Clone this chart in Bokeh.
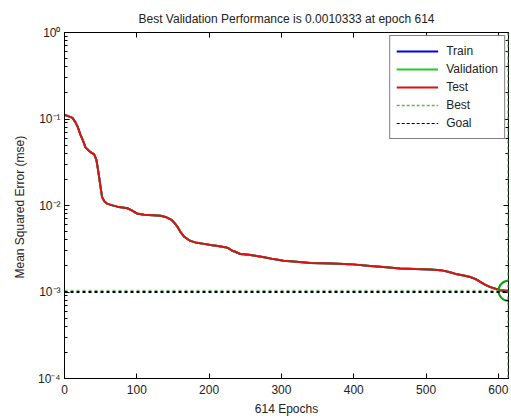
from bokeh.plotting import figure
from bokeh.models import (Range1d, LinearAxis, LogAxis, Span, Legend, LegendItem,
                          CustomJSTickFormatter, FixedTicker, ColumnDataSource)
from bokeh.embed import file_html
from bokeh.resources import INLINE

# ---- data ----
epochs = [0, 5, 11, 15, 18, 22, 26, 29, 35, 41,
          44, 46, 48, 50, 52, 55, 59, 65, 73, 80,
          87, 93, 100, 110, 122, 133, 141, 148, 152, 156,
          160, 165, 170, 174, 183, 193, 202, 212, 222, 227,
          232, 237, 243, 255, 266, 278, 289, 303, 317, 340,
          370, 395, 423, 445, 464, 485, 506, 520, 532, 543,
          552, 561, 568, 575, 582, 589, 596, 602, 608, 614]
test_perf = [0.112, 0.108, 0.103, 0.092, 0.082, 0.066, 0.055, 0.047, 0.042, 0.039,
             0.034, 0.027, 0.021, 0.016, 0.0125, 0.0112, 0.0105, 0.0101, 0.0097, 0.0095,
             0.0093, 0.0088, 0.0081, 0.0078, 0.0077, 0.0076, 0.0073, 0.0068, 0.0063, 0.0057,
             0.0050, 0.0044, 0.0041, 0.0039, 0.0037, 0.0036, 0.0035, 0.0034, 0.0033, 0.0032,
             0.0030, 0.0029, 0.00275, 0.0027, 0.0026, 0.0025, 0.0024, 0.0023, 0.00225, 0.00217,
             0.00213, 0.0021, 0.0020, 0.00193, 0.00187, 0.00184, 0.00182, 0.00179, 0.0017, 0.0016,
             0.00155, 0.00149, 0.00142, 0.00131, 0.00121, 0.00114, 0.00109, 0.00105, 0.00104, 0.0010333]
# train and validation curves are hidden underneath the test curve in the reference
train_perf = list(test_perf)
val_perf = list(test_perf)
best_epoch = [614]
best_perf = [0.0010333]
goal_perf = 0.001
x_max = 614
x_ticks = [0, 100, 200, 300, 400, 500, 600]
title_text = "Best Validation Performance is 0.0010333 at epoch 614"
x_label = "614 Epochs"
y_label = "Mean Squared Error  (mse)"

FONT = "Liberation Sans"
TXT = "#222222"

p = figure(width=511, height=419, x_range=Range1d(0, x_max), y_range=Range1d(1e-4, 1.0),
           y_axis_type="log", output_backend="svg", toolbar_location=None,
           title=title_text, min_border_left=64, min_border_right=3,
           min_border_top=32, min_border_bottom=41)
p.title.align = "center"
p.title.text_font = FONT
p.title.text_font_size = "12px"
p.title.text_font_style = "normal"
p.title.text_color = TXT
p.title.standoff = 14
p.xgrid.visible = False
p.ygrid.visible = False
p.outline_line_color = "black"
p.background_fill_color = "white"
p.border_fill_color = "white"

sup_fmt = CustomJSTickFormatter(code=r"""
const e = Math.round(Math.log10(tick));
const m = {"0":"\u2070","1":"\u00b9","2":"\u00b2","3":"\u00b3","4":"\u2074","5":"\u2075",
           "6":"\u2076","7":"\u2077","8":"\u2078","9":"\u2079","-":"\u207b"};
return "10" + String(e).split("").map(c => m[c]).join("");
""")
blank_fmt = CustomJSTickFormatter(code='return "";')

def style(ax):
    ax.axis_line_color = "black"
    ax.major_tick_in = 5
    ax.major_tick_out = 0
    ax.minor_tick_in = 3
    ax.minor_tick_out = 0
    ax.major_tick_line_color = "black"
    ax.minor_tick_line_color = "black"
    ax.major_label_text_font = FONT
    ax.major_label_text_font_size = "12px"
    ax.major_label_text_color = TXT
    ax.major_label_standoff = 4
    ax.axis_label_text_font = FONT
    ax.axis_label_text_font_size = "12px"
    ax.axis_label_text_font_style = "normal"
    ax.axis_label_text_color = TXT

xa = p.xaxis[0]
style(xa)
xa.ticker = FixedTicker(ticks=x_ticks)
xa.minor_tick_line_color = None
xa.axis_label = x_label
xa.major_label_standoff = 6
xa.axis_label_standoff = 5

ya = p.yaxis[0]
style(ya)
ya.formatter = sup_fmt
ya.axis_label = y_label
ya.axis_label_standoff = 8

top = LinearAxis(ticker=FixedTicker(ticks=x_ticks), formatter=blank_fmt)
style(top)
top.major_label_standoff = 0
top.major_label_text_font_size = "1px"
top.minor_tick_line_color = None
p.add_layout(top, "above")

right = LogAxis(formatter=blank_fmt)
style(right)
right.major_label_standoff = 0
right.major_label_text_font_size = "1px"
p.add_layout(right, "right")

src = ColumnDataSource(dict(epoch=epochs, train=train_perf, val=val_perf, test=test_perf))
r_train = p.line("epoch", "train", source=src, line_color="#0000ee", line_width=2)
r_val = p.line("epoch", "val", source=src, line_color="#22cc22", line_width=2)
r_test = p.line("epoch", "test", source=src, line_color="#dd1111", line_width=2)

goal_span = Span(location=goal_perf, dimension="width", line_color="black",
                 line_dash="3 3", line_width=2)
best_h = Span(location=best_perf[0], dimension="width", line_color="#2a9a2a",
              line_dash="3 3", line_width=2, line_alpha=0.6)
best_v = Span(location=best_epoch[0], dimension="height", line_color="#2a9a2a",
              line_dash="3 3", line_width=2)
p.add_layout(best_h)
p.add_layout(goal_span)
p.add_layout(best_v)

p.scatter(best_epoch, best_perf, marker="circle", size=20, fill_alpha=0,
          line_color="#119911", line_width=2)

# legend-only renderers for dotted entries (plotted below the visible range)
r_best_leg = p.line([0, 1], [1e-6, 1e-6], line_color="#55bb55", line_dash="3 2", line_width=1.5)
r_goal_leg = p.line([0, 1], [1e-6, 1e-6], line_color="black", line_dash="3 2", line_width=1)

legend = Legend(items=[
    LegendItem(label="Train", renderers=[r_train]),
    LegendItem(label="Validation", renderers=[r_val]),
    LegendItem(label="Test", renderers=[r_test]),
    LegendItem(label="Best", renderers=[r_best_leg]),
    LegendItem(label="Goal", renderers=[r_goal_leg]),
], location="top_right")
legend.border_line_color = "black"
legend.border_line_width = 1
legend.background_fill_color = "white"
legend.background_fill_alpha = 1
legend.label_text_font = FONT
legend.label_text_font_size = "12px"
legend.label_text_color = TXT
legend.glyph_width = 42
legend.glyph_height = 18
legend.label_height = 18
legend.label_standoff = 8
legend.spacing = 0
legend.padding = 6
legend.margin = 3
p.add_layout(legend, "center")

open("out.html", "w").write(file_html(p, INLINE))
